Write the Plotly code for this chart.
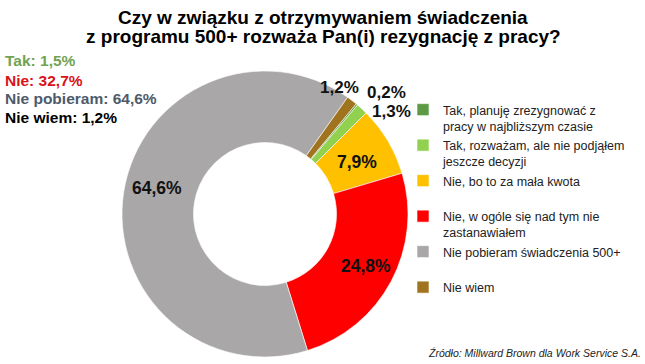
import plotly.graph_objects as go

# ---- data ----
categories = [
    "Tak, planuję zrezygnować z<br>pracy w najbliższym czasie",
    "Tak, rozważam, ale nie podjąłem<br>jeszcze decyzji",
    "Nie, bo to za mała kwota<br> ",
    "Nie, w ogóle się nad tym nie<br>zastanawiałem",
    "Nie pobieram świadczenia 500+<br> ",
    "Nie wiem",
]
values = [0.2, 1.3, 7.9, 24.8, 64.6, 1.2]
colors = ["#5E9A45", "#92D050", "#FFC000", "#FF0000", "#A9A7A7", "#A0731E"]

summary_labels = ["Tak", "Nie", "Nie pobieram", "Nie wiem"]
summary_groups = [[0, 1], [2, 3], [4], [5]]
summary_colors = ["#72A351", "#DA1219", "#4E5A6B", "#000000"]

title_lines = [
    "Czy w związku z otrzymywaniem świadczenia",
    "z programu 500+ rozważa Pan(i) rezygnację z pracy?",
]
source = "Źródło: Millward Brown dla Work Service S.A."


def pl(v):
    return f"{v:.1f}".replace(".", ",") + "%"


W, H = 645, 364
FONT = "Liberation Sans, Arial, sans-serif"

fig = go.Figure()
fig.add_trace(go.Pie(
    labels=categories,
    values=values,
    textinfo="none",
    marker=dict(colors=colors, line=dict(color="white", width=0.6)),
    hole=0.5,
    sort=False,
    direction="clockwise",
    rotation=39.6,
    domain=dict(x=[122 / W, 408 / W], y=[1 - 357 / H, 1 - 71 / H]),
    hoverinfo="label+value",
))

ann = []
# title
for line, yc in zip(title_lines, [17, 37]):
    ann.append(dict(text=f"<b>{line}</b>", x=323 / W, y=1 - yc / H, xref="paper", yref="paper",
                    xanchor="center", yanchor="middle", showarrow=False,
                    font=dict(family=FONT, size=19, color="#000000")))
# left summary
for lab, grp, col, yc in zip(summary_labels, summary_groups, summary_colors, [61, 80, 99, 118]):
    total = sum(values[j] for j in grp)
    ann.append(dict(text=f"<b>{lab}: {pl(total)}</b>", x=3 / W, y=1 - yc / H, xref="paper", yref="paper",
                    xanchor="left", yanchor="middle", showarrow=False,
                    font=dict(family=FONT, size=15.5, color=col)))
# slice value labels
label_pos = {4: (157, 188), 3: (366, 266), 2: (357, 162), 5: (339, 87), 0: (386, 92), 1: (391, 111)}
for idx, (px, py) in label_pos.items():
    size = 17.5 if values[idx] >= 5 else 17
    ann.append(dict(text=f"<b>{pl(values[idx])}</b>", x=px / W, y=1 - py / H, xref="paper", yref="paper",
                    xanchor="center", yanchor="middle", showarrow=False,
                    font=dict(family=FONT, size=size, color="#111111")))
# source
ann.append(dict(text=f"<i>{source}</i>", x=643 / W, y=1 - 353 / H, xref="paper", yref="paper",
                xanchor="right", yanchor="middle", showarrow=False,
                font=dict(family=FONT, size=10.5, color="#222222")))

fig.update_layout(
    width=W, height=H,
    margin=dict(l=0, r=0, t=0, b=0),
    paper_bgcolor="white", plot_bgcolor="white",
    showlegend=True,
    legend=dict(x=403 / W, y=1 - 95 / H, xanchor="left", yanchor="top",
                valign="top", font=dict(family=FONT, size=12.5, color="#222222"),
                bgcolor="rgba(0,0,0,0)", traceorder="normal"),
    annotations=ann,
)

fig.write_html("out.html", config={"displayModeBar": False},
               post_script="document.body.style.margin='0';")
